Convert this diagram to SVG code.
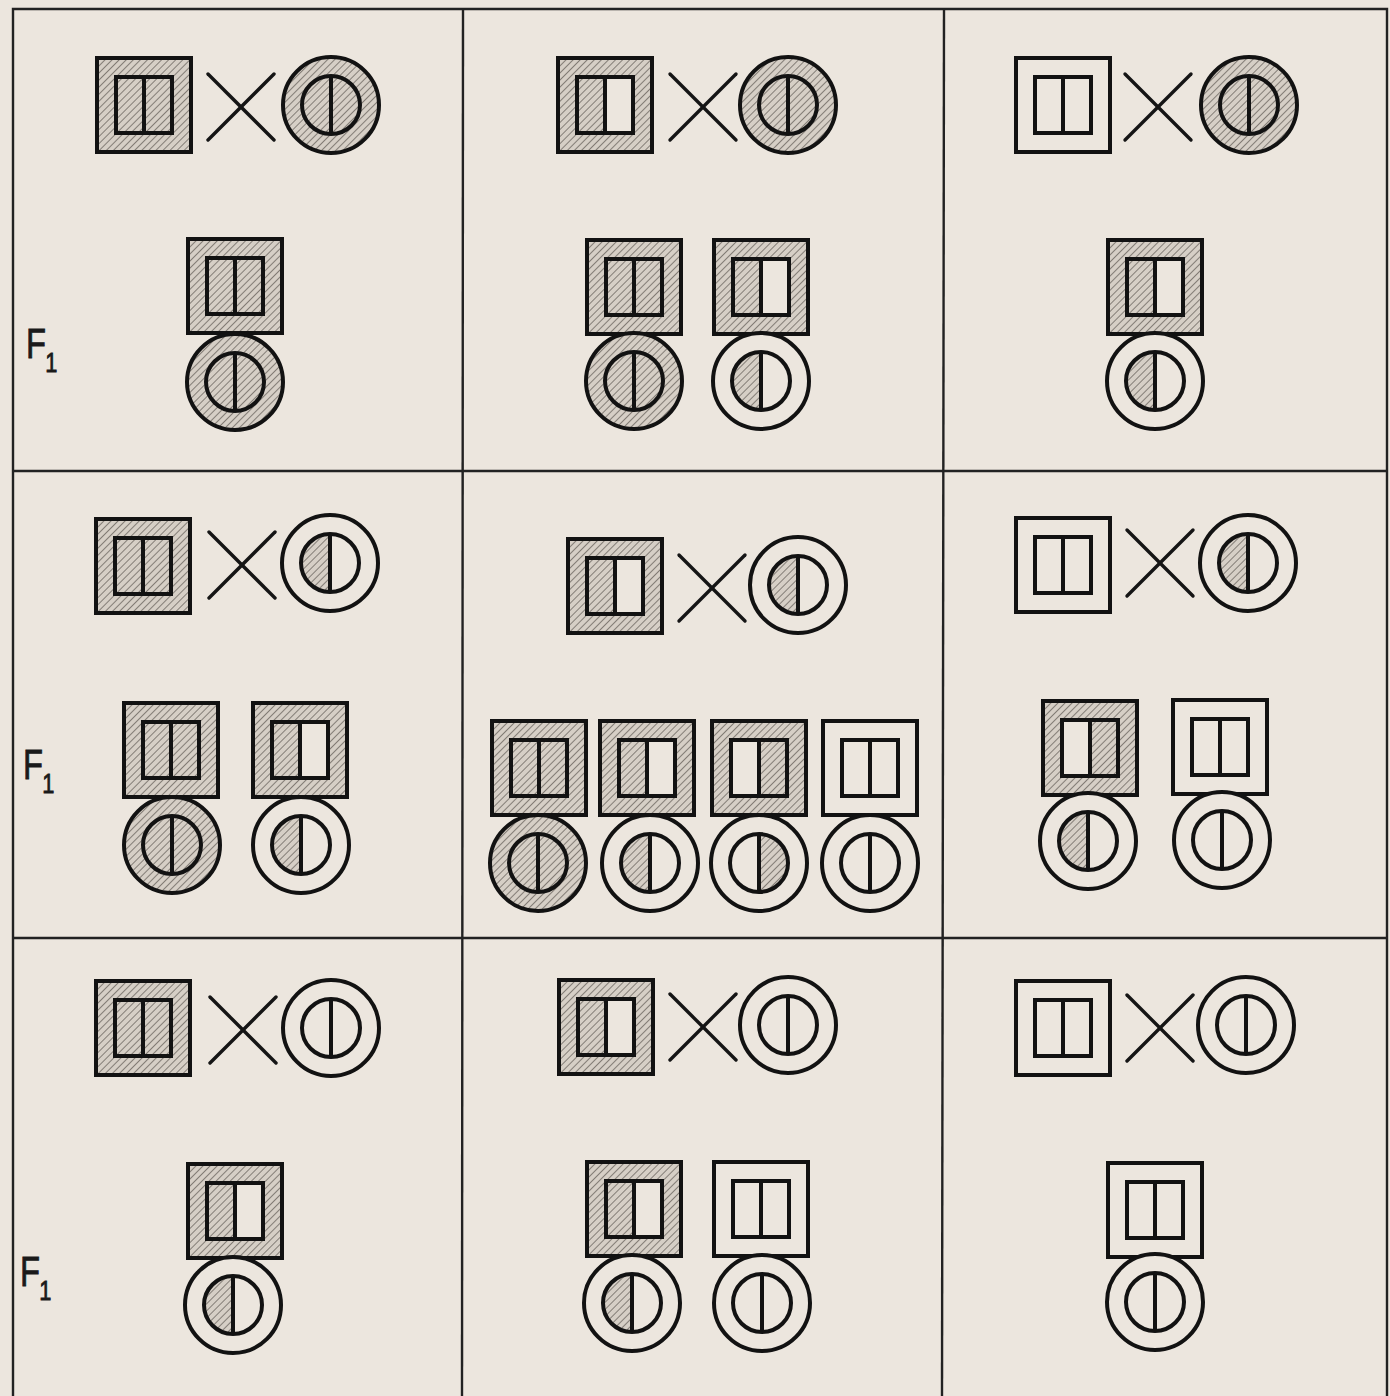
<svg xmlns="http://www.w3.org/2000/svg" xmlns:xlink="http://www.w3.org/1999/xlink" width="1390" height="1396" viewBox="0 0 1390 1396">
<style>
.h{fill:url(#hatch)}
.w{fill:#ece6de}
.k{fill:none;stroke:#121212;stroke-width:4}
.x{stroke:#151515;stroke-width:3.4;stroke-linecap:round}
.grid{stroke:#222;stroke-width:2.4;fill:none}
.lbl{font-family:"Liberation Sans",Arial,sans-serif;font-size:42px;fill:#1a1a1a;stroke:#1a1a1a;stroke-width:0.8}
</style>
<defs>
<pattern id="hatch" width="5" height="5" patternUnits="userSpaceOnUse" patternTransform="rotate(45)">
<rect width="5" height="5" fill="#d6cfc6"/>
<line x1="0" y1="0" x2="0" y2="5" stroke="#5f5953" stroke-width="1.4"/>
</pattern>
<rect id="sqO" x="-47" y="-47" width="94" height="94"/>
<rect id="sqL" x="-28" y="-28" width="28" height="56"/>
<rect id="sqR" x="0" y="-28" width="28" height="56"/>
<g id="sqK" class="k"><rect x="-47" y="-47" width="94" height="94"/><rect x="-28" y="-28" width="56" height="56"/><line x1="0" y1="-28" x2="0" y2="28"/></g>
<circle id="ciO" r="48"/>
<path id="ciL" d="M0,-29 A29,29 0 0 0 0,29Z"/>
<path id="ciR" d="M0,-29 A29,29 0 0 1 0,29Z"/>
<g id="ciK" class="k"><circle r="48"/><circle r="29"/><line x1="0" y1="-29" x2="0" y2="29"/></g>
<g id="X" class="x"><line x1="-33" y1="-33" x2="33" y2="33"/><line x1="-33" y1="33" x2="33" y2="-33"/></g>
</defs>
<rect width="1390" height="1396" fill="#ece6de"/>
<g id="grid" class="grid">
<path d="M13,1396 V9 H1387 V1396"/>
<line x1="463" y1="9" x2="462" y2="1396"/>
<line x1="944" y1="9" x2="942" y2="1396"/>
<line x1="13" y1="471" x2="1387" y2="471"/>
<line x1="13" y1="938" x2="1387" y2="938"/>
</g>
<g id="labels">
<text class="lbl" transform="translate(26,358) scale(0.78,1)">F<tspan dx="-1" dy="14" font-size="28">1</tspan></text>
<text class="lbl" transform="translate(23,779) scale(0.78,1)">F<tspan dx="-1" dy="14" font-size="28">1</tspan></text>
<text class="lbl" transform="translate(20,1286) scale(0.78,1)">F<tspan dx="-1" dy="14" font-size="28">1</tspan></text>
</g>
<g id="connectors">
<use href="#X" x="241" y="107"/>
<use href="#X" x="703" y="107"/>
<use href="#X" x="1158" y="107"/>
<use href="#X" x="242" y="565"/>
<use href="#X" x="712" y="588"/>
<use href="#X" x="1160" y="563"/>
<use href="#X" x="243" y="1030"/>
<use href="#X" x="703" y="1027"/>
<use href="#X" x="1160" y="1028"/>
</g>
<!-- Cell 1,1 -->
<g id="c11-m" transform="translate(144,105)"><use href="#sqO" class="h"/><use href="#sqL" class="h"/><use href="#sqR" class="h"/><use href="#sqK"/></g>
<g id="c11-f" transform="translate(331,105)"><use href="#ciO" class="h"/><use href="#ciL" class="h"/><use href="#ciR" class="h"/><use href="#ciK"/></g>
<g id="c11-s1" transform="translate(235,286)"><use href="#sqO" class="h"/><use href="#sqL" class="h"/><use href="#sqR" class="h"/><use href="#sqK"/></g>
<g id="c11-d1" transform="translate(235,382)"><use href="#ciO" class="h"/><use href="#ciL" class="h"/><use href="#ciR" class="h"/><use href="#ciK"/></g>
<!-- Cell 1,2 -->
<g id="c12-m" transform="translate(605,105)"><use href="#sqO" class="h"/><use href="#sqL" class="h"/><use href="#sqR" class="w"/><use href="#sqK"/></g>
<g id="c12-f" transform="translate(788,105)"><use href="#ciO" class="h"/><use href="#ciL" class="h"/><use href="#ciR" class="h"/><use href="#ciK"/></g>
<g id="c12-s1" transform="translate(634,287)"><use href="#sqO" class="h"/><use href="#sqL" class="h"/><use href="#sqR" class="h"/><use href="#sqK"/></g>
<g id="c12-s2" transform="translate(761,287)"><use href="#sqO" class="h"/><use href="#sqL" class="h"/><use href="#sqR" class="w"/><use href="#sqK"/></g>
<g id="c12-d1" transform="translate(634,381)"><use href="#ciO" class="h"/><use href="#ciL" class="h"/><use href="#ciR" class="h"/><use href="#ciK"/></g>
<g id="c12-d2" transform="translate(761,381)"><use href="#ciO" class="w"/><use href="#ciL" class="h"/><use href="#ciR" class="w"/><use href="#ciK"/></g>
<!-- Cell 1,3 -->
<g id="c13-m" transform="translate(1063,105)"><use href="#sqO" class="w"/><use href="#sqL" class="w"/><use href="#sqR" class="w"/><use href="#sqK"/></g>
<g id="c13-f" transform="translate(1249,105)"><use href="#ciO" class="h"/><use href="#ciL" class="h"/><use href="#ciR" class="h"/><use href="#ciK"/></g>
<g id="c13-s1" transform="translate(1155,287)"><use href="#sqO" class="h"/><use href="#sqL" class="h"/><use href="#sqR" class="w"/><use href="#sqK"/></g>
<g id="c13-d1" transform="translate(1155,381)"><use href="#ciO" class="w"/><use href="#ciL" class="h"/><use href="#ciR" class="w"/><use href="#ciK"/></g>
<!-- Cell 2,1 -->
<g id="c21-m" transform="translate(143,566)"><use href="#sqO" class="h"/><use href="#sqL" class="h"/><use href="#sqR" class="h"/><use href="#sqK"/></g>
<g id="c21-f" transform="translate(330,563)"><use href="#ciO" class="w"/><use href="#ciL" class="h"/><use href="#ciR" class="w"/><use href="#ciK"/></g>
<g id="c21-s1" transform="translate(171,750)"><use href="#sqO" class="h"/><use href="#sqL" class="h"/><use href="#sqR" class="h"/><use href="#sqK"/></g>
<g id="c21-s2" transform="translate(300,750)"><use href="#sqO" class="h"/><use href="#sqL" class="h"/><use href="#sqR" class="w"/><use href="#sqK"/></g>
<g id="c21-d1" transform="translate(172,845)"><use href="#ciO" class="h"/><use href="#ciL" class="h"/><use href="#ciR" class="h"/><use href="#ciK"/></g>
<g id="c21-d2" transform="translate(301,845)"><use href="#ciO" class="w"/><use href="#ciL" class="h"/><use href="#ciR" class="w"/><use href="#ciK"/></g>
<!-- Cell 2,2 -->
<g id="c22-m" transform="translate(615,586)"><use href="#sqO" class="h"/><use href="#sqL" class="h"/><use href="#sqR" class="w"/><use href="#sqK"/></g>
<g id="c22-f" transform="translate(798,585)"><use href="#ciO" class="w"/><use href="#ciL" class="h"/><use href="#ciR" class="w"/><use href="#ciK"/></g>
<g id="c22-s1" transform="translate(539,768)"><use href="#sqO" class="h"/><use href="#sqL" class="h"/><use href="#sqR" class="h"/><use href="#sqK"/></g>
<g id="c22-s2" transform="translate(647,768)"><use href="#sqO" class="h"/><use href="#sqL" class="h"/><use href="#sqR" class="w"/><use href="#sqK"/></g>
<g id="c22-s3" transform="translate(759,768)"><use href="#sqO" class="h"/><use href="#sqL" class="w"/><use href="#sqR" class="h"/><use href="#sqK"/></g>
<g id="c22-s4" transform="translate(870,768)"><use href="#sqO" class="w"/><use href="#sqL" class="w"/><use href="#sqR" class="w"/><use href="#sqK"/></g>
<g id="c22-d1" transform="translate(538,863)"><use href="#ciO" class="h"/><use href="#ciL" class="h"/><use href="#ciR" class="h"/><use href="#ciK"/></g>
<g id="c22-d2" transform="translate(650,863)"><use href="#ciO" class="w"/><use href="#ciL" class="h"/><use href="#ciR" class="w"/><use href="#ciK"/></g>
<g id="c22-d3" transform="translate(759,863)"><use href="#ciO" class="w"/><use href="#ciL" class="w"/><use href="#ciR" class="h"/><use href="#ciK"/></g>
<g id="c22-d4" transform="translate(870,863)"><use href="#ciO" class="w"/><use href="#ciL" class="w"/><use href="#ciR" class="w"/><use href="#ciK"/></g>
<!-- Cell 2,3 -->
<g id="c23-m" transform="translate(1063,565)"><use href="#sqO" class="w"/><use href="#sqL" class="w"/><use href="#sqR" class="w"/><use href="#sqK"/></g>
<g id="c23-f" transform="translate(1248,563)"><use href="#ciO" class="w"/><use href="#ciL" class="h"/><use href="#ciR" class="w"/><use href="#ciK"/></g>
<g id="c23-s1" transform="translate(1090,748)"><use href="#sqO" class="h"/><use href="#sqL" class="w"/><use href="#sqR" class="h"/><use href="#sqK"/></g>
<g id="c23-s2" transform="translate(1220,747)"><use href="#sqO" class="w"/><use href="#sqL" class="w"/><use href="#sqR" class="w"/><use href="#sqK"/></g>
<g id="c23-d1" transform="translate(1088,841)"><use href="#ciO" class="w"/><use href="#ciL" class="h"/><use href="#ciR" class="w"/><use href="#ciK"/></g>
<g id="c23-d2" transform="translate(1222,840)"><use href="#ciO" class="w"/><use href="#ciL" class="w"/><use href="#ciR" class="w"/><use href="#ciK"/></g>
<!-- Cell 3,1 -->
<g id="c31-m" transform="translate(143,1028)"><use href="#sqO" class="h"/><use href="#sqL" class="h"/><use href="#sqR" class="h"/><use href="#sqK"/></g>
<g id="c31-f" transform="translate(331,1028)"><use href="#ciO" class="w"/><use href="#ciL" class="w"/><use href="#ciR" class="w"/><use href="#ciK"/></g>
<g id="c31-s1" transform="translate(235,1211)"><use href="#sqO" class="h"/><use href="#sqL" class="h"/><use href="#sqR" class="w"/><use href="#sqK"/></g>
<g id="c31-d1" transform="translate(233,1305)"><use href="#ciO" class="w"/><use href="#ciL" class="h"/><use href="#ciR" class="w"/><use href="#ciK"/></g>
<!-- Cell 3,2 -->
<g id="c32-m" transform="translate(606,1027)"><use href="#sqO" class="h"/><use href="#sqL" class="h"/><use href="#sqR" class="w"/><use href="#sqK"/></g>
<g id="c32-f" transform="translate(788,1025)"><use href="#ciO" class="w"/><use href="#ciL" class="w"/><use href="#ciR" class="w"/><use href="#ciK"/></g>
<g id="c32-s1" transform="translate(634,1209)"><use href="#sqO" class="h"/><use href="#sqL" class="h"/><use href="#sqR" class="w"/><use href="#sqK"/></g>
<g id="c32-s2" transform="translate(761,1209)"><use href="#sqO" class="w"/><use href="#sqL" class="w"/><use href="#sqR" class="w"/><use href="#sqK"/></g>
<g id="c32-d1" transform="translate(632,1303)"><use href="#ciO" class="w"/><use href="#ciL" class="h"/><use href="#ciR" class="w"/><use href="#ciK"/></g>
<g id="c32-d2" transform="translate(762,1303)"><use href="#ciO" class="w"/><use href="#ciL" class="w"/><use href="#ciR" class="w"/><use href="#ciK"/></g>
<!-- Cell 3,3 -->
<g id="c33-m" transform="translate(1063,1028)"><use href="#sqO" class="w"/><use href="#sqL" class="w"/><use href="#sqR" class="w"/><use href="#sqK"/></g>
<g id="c33-f" transform="translate(1246,1025)"><use href="#ciO" class="w"/><use href="#ciL" class="w"/><use href="#ciR" class="w"/><use href="#ciK"/></g>
<g id="c33-s1" transform="translate(1155,1210)"><use href="#sqO" class="w"/><use href="#sqL" class="w"/><use href="#sqR" class="w"/><use href="#sqK"/></g>
<g id="c33-d1" transform="translate(1155,1302)"><use href="#ciO" class="w"/><use href="#ciL" class="w"/><use href="#ciR" class="w"/><use href="#ciK"/></g>
</svg>
